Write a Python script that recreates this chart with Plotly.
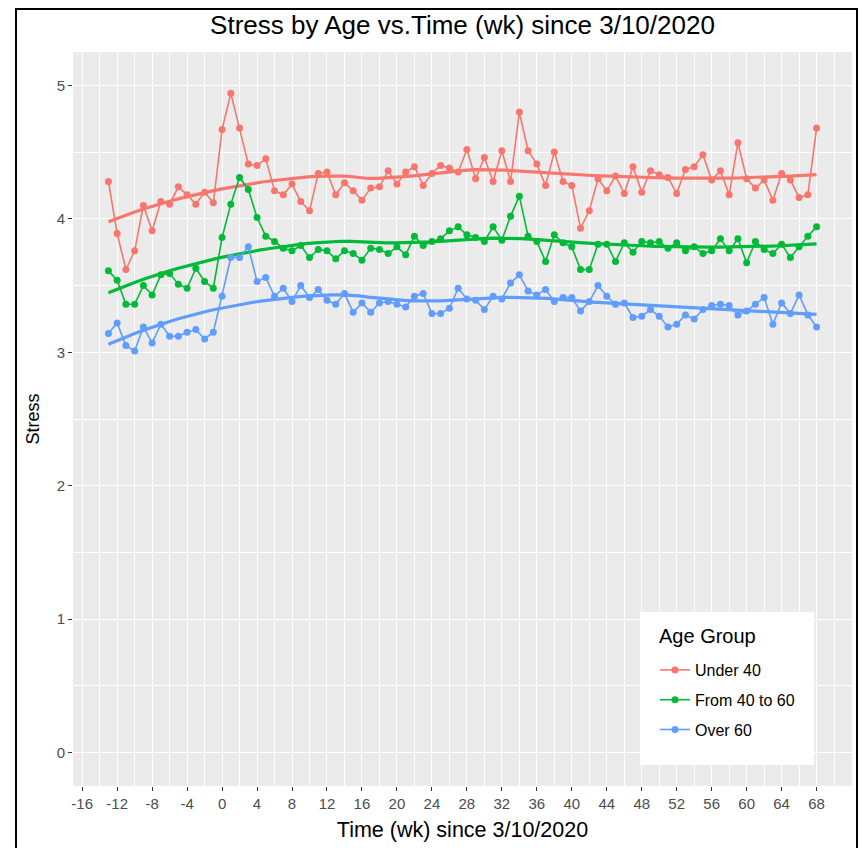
import numpy as np
import plotly.graph_objects as go

weeks = list(range(-13, 69))

under40 = [4.28, 3.89, 3.62, 3.76, 4.10, 3.91, 4.13, 4.11, 4.24, 4.18, 4.11, 4.20, 4.12,
           4.67, 4.94, 4.68, 4.41, 4.40, 4.45, 4.21, 4.18,
           4.26, 4.13, 4.06, 4.34, 4.35, 4.18, 4.27, 4.21, 4.14, 4.23, 4.24, 4.36, 4.26, 4.35,
           4.39, 4.25, 4.34, 4.40, 4.38, 4.35, 4.52, 4.30,
           4.46, 4.28, 4.51, 4.28, 4.80, 4.51, 4.41, 4.25, 4.50, 4.28, 4.25, 3.93, 4.06, 4.30,
           4.21, 4.32, 4.19, 4.39, 4.20, 4.36, 4.33, 4.31,
           4.19, 4.37, 4.39, 4.48, 4.29, 4.36, 4.18, 4.57, 4.30, 4.23, 4.29, 4.14, 4.34, 4.29,
           4.16, 4.18, 4.68]

from40to60 = [3.61, 3.54, 3.36, 3.36, 3.50, 3.43, 3.58, 3.59, 3.51, 3.48, 3.63, 3.53, 3.48,
              3.86, 4.11, 4.31, 4.22, 4.01, 3.87, 3.83, 3.78,
              3.76, 3.80, 3.71, 3.77, 3.76, 3.70, 3.76, 3.74, 3.69, 3.78, 3.77, 3.74, 3.79, 3.73,
              3.87, 3.80, 3.83, 3.85, 3.91, 3.94, 3.88, 3.86,
              3.83, 3.94, 3.84, 4.02, 4.17, 3.87, 3.83, 3.68, 3.88, 3.82, 3.79, 3.62, 3.62, 3.81,
              3.81, 3.68, 3.82, 3.75, 3.83, 3.82, 3.83, 3.78,
              3.82, 3.76, 3.79, 3.74, 3.76, 3.85, 3.76, 3.85, 3.67, 3.83, 3.77, 3.74, 3.81, 3.71,
              3.79, 3.87, 3.94]

over60 = [3.14, 3.22, 3.05, 3.01, 3.19, 3.07, 3.21, 3.12, 3.12, 3.15, 3.17, 3.10, 3.15,
          3.42, 3.71, 3.71, 3.79, 3.53, 3.56, 3.42, 3.48,
          3.38, 3.50, 3.41, 3.47, 3.39, 3.36, 3.44, 3.30, 3.37, 3.30, 3.37, 3.38, 3.36, 3.34,
          3.42, 3.44, 3.29, 3.29, 3.33, 3.48, 3.40, 3.39,
          3.32, 3.42, 3.40, 3.52, 3.58, 3.46, 3.43, 3.47, 3.38, 3.41, 3.41, 3.31, 3.38, 3.50,
          3.42, 3.36, 3.37, 3.26, 3.27, 3.32, 3.27, 3.19,
          3.21, 3.28, 3.25, 3.32, 3.35, 3.36, 3.35, 3.28, 3.31, 3.36, 3.41, 3.21, 3.37, 3.29,
          3.43, 3.28, 3.19]

groups = ["Under 40", "From 40 to 60", "Over 60"]
colors = ["#F8766D", "#00BA38", "#619CFF"]
x_ticks = list(range(-16, 69, 4))
y_ticks = [0, 1, 2, 3, 4, 5]


def loess(x, y, xs, span=0.75):
    x = np.asarray(x, float)
    y = np.asarray(y, float)
    n = len(x)
    q = int(np.floor(n * span))
    out = []
    for x0 in xs:
        d = np.abs(x - x0)
        h = np.sort(d)[q - 1]
        w = np.clip(1 - (d / h) ** 3, 0, None) ** 3
        X = np.vstack([np.ones(n), x - x0, (x - x0) ** 2]).T
        XtW = X.T * w
        beta = np.linalg.solve(XtW @ X, XtW @ y)
        out.append(beta[0])
    return np.array(out)


fig = go.Figure()
xs = np.linspace(min(weeks), max(weeks), 80)
for i, (name, vals, col) in enumerate(zip(groups, [under40, from40to60, over60], colors)):
    fig.add_trace(go.Scatter(
        x=weeks, y=vals, mode="lines+markers", name=name,
        line=dict(color=col, width=1.6), marker=dict(color=col, size=7),
        legendgroup=name, showlegend=True))
    fig.add_trace(go.Scatter(
        x=xs, y=loess(weeks, vals, xs), mode="lines", name=name + " smooth",
        line=dict(color=col, width=3.2), showlegend=False, hoverinfo="skip"))

# page body adds an 8px offset; figure is sized so that it fits the window exactly
W, H = 858, 840
L, R, T, B = 65, 14, 44, 62
PW = W - L - R
PH = H - T - B
px0, py1 = L + 8, T + 8 + PH  # panel left/bottom in screen px


def sx(p):
    return (p - px0) / PW


def sy(p):
    return (py1 - p) / PH


fig.update_layout(
    width=W, height=H,
    margin=dict(l=L, r=R, t=T, b=B),
    paper_bgcolor="white", plot_bgcolor="#EBEBEB",
    font=dict(family="Liberation Sans, Arial, sans-serif", color="#000000"),
    title=dict(text="Stress by Age vs.Time (wk) since 3/10/2020", x=0.5, xref="paper",
               xanchor="center", y=1 - 17 / H, yanchor="middle",
               font=dict(size=26, color="#000000")),
    xaxis=dict(range=[-17.05, 72.05], tickvals=x_ticks, ticktext=[str(v) for v in x_ticks],
               showgrid=True, gridcolor="white", gridwidth=1.1, zeroline=False,
               ticks="outside", ticklen=4, tickcolor="#333333", tickwidth=1.1,
               tickfont=dict(size=15, color="#4D4D4D"), showline=False,
               minor=dict(dtick=2, tick0=0, showgrid=True, gridcolor="white", gridwidth=0.55),
               title=dict(text="Time (wk) since 3/10/2020", font=dict(size=21.5, color="#000000"),
                          standoff=10)),
    yaxis=dict(range=[-0.25, 5.25], tickvals=y_ticks, ticktext=[str(v) for v in y_ticks],
               showgrid=True, gridcolor="white", gridwidth=1.1, zeroline=False,
               ticks="outside", ticklen=4, tickcolor="#333333", tickwidth=1.1,
               tickfont=dict(size=15, color="#4D4D4D"), showline=False,
               minor=dict(dtick=0.5, tick0=0, showgrid=True, gridcolor="white", gridwidth=0.55),
               title=dict(text="Stress", font=dict(size=18, color="#000000"), standoff=12)),
    legend=dict(x=sx(655), y=sy(653), xanchor="left", yanchor="top",
                bgcolor="rgba(0,0,0,0)", borderwidth=0, traceorder="grouped", tracegroupgap=6,
                font=dict(size=16, color="#000000")),
    annotations=[dict(text="Age Group", xref="paper", yref="paper", x=sx(657), y=sy(636),
                      xanchor="left", yanchor="middle", showarrow=False,
                      font=dict(size=20, color="#000000"))],
    shapes=[
        dict(type="rect", xref="paper", yref="paper",
             x0=sx(640), x1=sx(814), y0=sy(765), y1=sy(612),
             line=dict(width=0), fillcolor="white", layer="above"),
        dict(type="rect", xref="paper", yref="paper",
             x0=sx(16), x1=sx(857), y0=sy(860), y1=sy(9),
             line=dict(color="black", width=2), fillcolor="rgba(0,0,0,0)", layer="above"),
    ],
)

fig.write_html("out.html")
